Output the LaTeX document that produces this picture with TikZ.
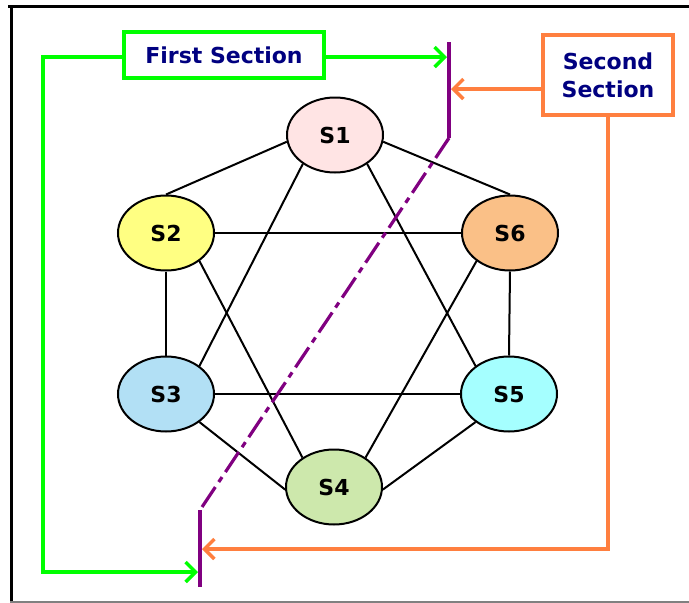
\documentclass[tikz,border=0pt]{standalone}
\usepackage{fontspec}
\setmainfont{DejaVu Sans}
\usetikzlibrary{shapes.geometric,arrows.meta}
\definecolor{navytext}{RGB}{0,0,128}
\definecolor{secgreen}{RGB}{0,255,0}
\definecolor{secorange}{RGB}{255,127,63}
\definecolor{cutpurple}{RGB}{128,0,128}
\definecolor{fillA}{RGB}{255,228,228}
\definecolor{fillB}{RGB}{255,255,130}
\definecolor{fillC}{RGB}{250,192,135}
\definecolor{fillD}{RGB}{178,224,245}
\definecolor{fillE}{RGB}{165,255,255}
\definecolor{fillF}{RGB}{205,232,172}
\tikzset{
  site/.style={ellipse, draw=black, line width=2pt, minimum width=96pt,
    minimum height=75pt, inner sep=0pt, font=\fontsize{22}{26}\selectfont\bfseries},
  link/.style={black, line width=2pt},
  labelbox/.style={draw, line width=4pt, fill=white, text=navytext, inner sep=0pt,
    align=center, font=\fontsize{22}{28}\selectfont\bfseries},
  sectarrow/.style={line width=4pt, -{Straight Barb[length=10pt,width=20pt,line width=3.5pt]}},
  cutline/.style={cutpurple, line width=3.2pt},
}
\begin{document}
\begin{tikzpicture}[x=1pt,y=-1pt]
\useasboundingbox (0,0) rectangle (689,603);
% page frame
\draw[black, line width=3pt] (8,6) -- (689,6);
\draw[black, line width=3pt] (11,6) -- (11,602);
\draw[gray, line width=1.5pt] (10,602) -- (689,602);

% sites
\node[site, fill=fillA] (s1) at (335,135) {S1};
\node[site, fill=fillB] (s2) at (166,233) {S2};
\node[site, fill=fillC] (s6) at (510,233) {S6};
\node[site, fill=fillD] (s3) at (166,394) {S3};
\node[site, fill=fillE] (s5) at (509,394) {S5};
\node[site, fill=fillF] (s4) at (334,487) {S4};

% links between sites
\draw[link] (s1.188) -- (s2.north);
\draw[link] (s1.352) -- (s6.north);
\draw[link] (s1.222) -- (s3.40);
\draw[link] (s1.318) -- (s5.140);
\draw[link] (s2.east) -- (s6.west);
\draw[link] (s2.south) -- (s3.north);
\draw[link] (s2.320) -- (s4.137);
\draw[link] (s6.220) -- (s4.43);
\draw[link] (s6.south) -- (s5.north);
\draw[link] (s3.east) -- (s5.west);
\draw[link] (s3.320) -- (s4.183);
\draw[link] (s5.220) -- (s4.357);

% cut line
\coordinate (cA) at (449,42);
\coordinate (cB) at (449,138);
\coordinate (cC) at (200,510);
\coordinate (cD) at (200,587);
\draw[cutline] (cA) -- (cB);
\draw[cutline, dash pattern=on 24pt off 6pt on 6pt off 6pt] (cB) -- (cC);
\draw[cutline] (cC) -- (cD);

% section labels
\node[labelbox, draw=secgreen, minimum width=200pt, minimum height=46pt] (first) at (224,55) {First Section};
\node[labelbox, draw=secorange, minimum width=130pt, minimum height=80pt] (second) at (608,75) {Second\\Section};

% section arrows
\coordinate (gTop) at (447,57);
\coordinate (gCorner) at (43,572);
\coordinate (gBot) at (198,572);
\coordinate (oTop) at (451,89);
\coordinate (oBot) at (202,549);
\draw[secgreen, sectarrow] (first.east |- gTop) -- (gTop);
\draw[secgreen, sectarrow] (first.west |- gTop) -| (gCorner) -- (gBot);
\draw[secorange, sectarrow] (second.west |- oTop) -- (oTop);
\draw[secorange, sectarrow] (second.south) |- (oBot);
\end{tikzpicture}
\end{document}
